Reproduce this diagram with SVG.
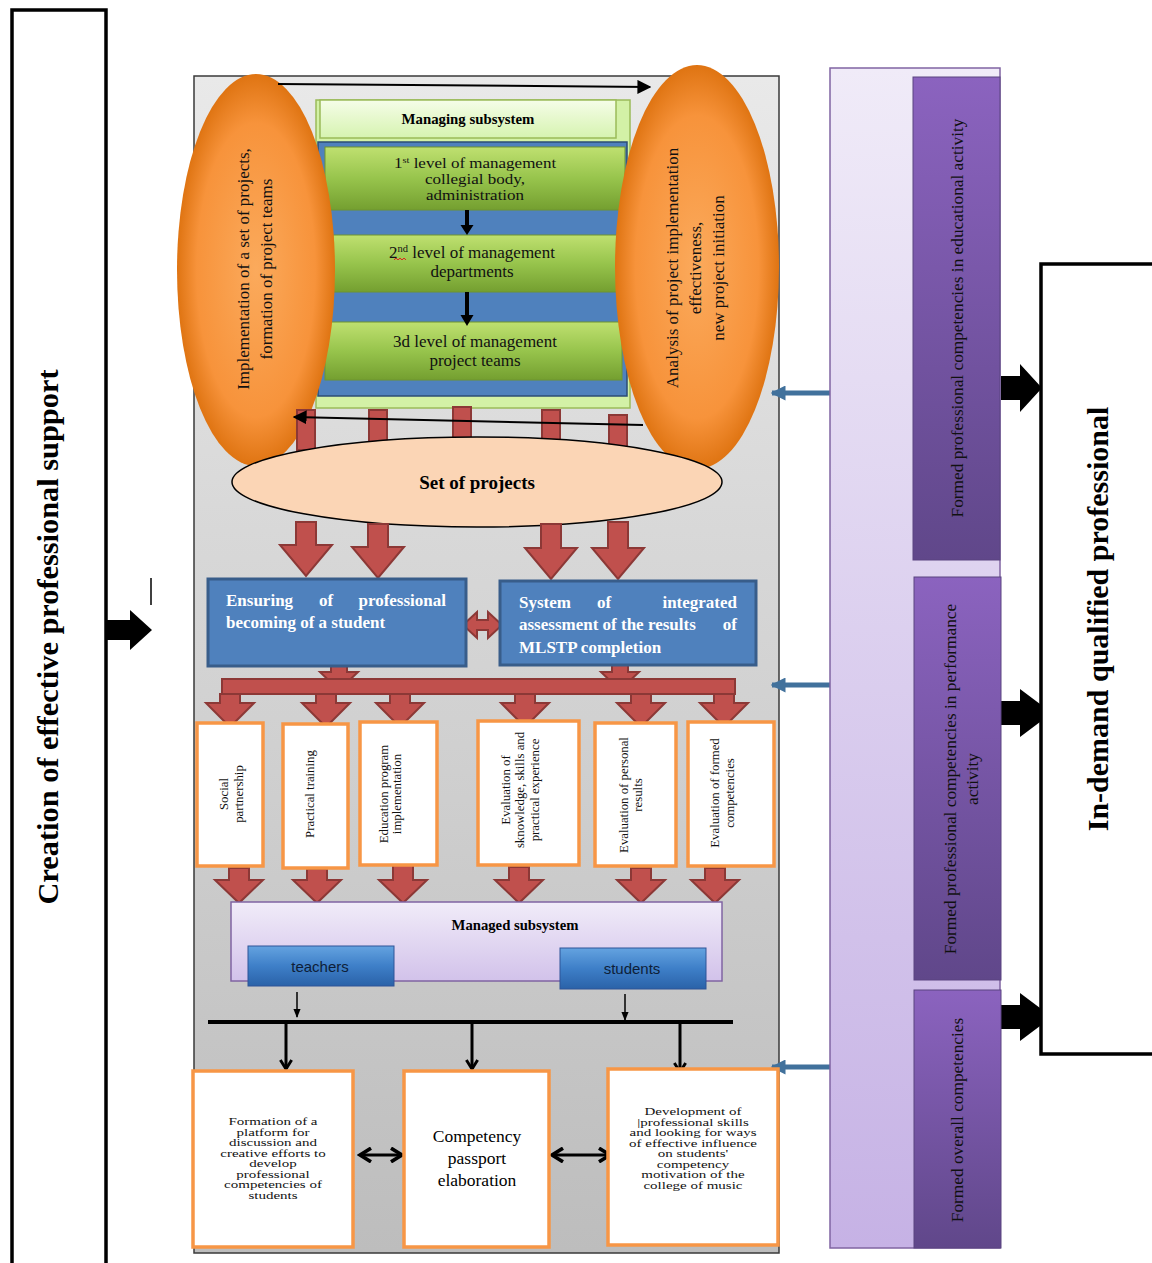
<svg xmlns="http://www.w3.org/2000/svg" width="1152" height="1263" viewBox="0 0 1152 1263">
<defs>
<linearGradient id="gPanel" x1="0" y1="0" x2="0" y2="1"><stop offset="0" stop-color="#e9e9e9"/><stop offset="1" stop-color="#bdbdbd"/></linearGradient>
<radialGradient id="gOrange" cx="0.5" cy="0.5" r="0.5"><stop offset="0" stop-color="#fbaa5c"/><stop offset="0.75" stop-color="#f7933b"/><stop offset="1" stop-color="#df7412"/></radialGradient>
<linearGradient id="gGreen" x1="0" y1="0" x2="0" y2="1"><stop offset="0" stop-color="#bfe070"/><stop offset="0.5" stop-color="#97c44c"/><stop offset="1" stop-color="#749f30"/></linearGradient>
<linearGradient id="gLightGreen" x1="0" y1="0" x2="0" y2="1"><stop offset="0" stop-color="#f5fde8"/><stop offset="1" stop-color="#d6f3b0"/></linearGradient>
<linearGradient id="gLav" x1="0" y1="0" x2="0" y2="1"><stop offset="0" stop-color="#f1ecf9"/><stop offset="1" stop-color="#d2c2ea"/></linearGradient>
<linearGradient id="gLavCol" x1="0" y1="0" x2="0" y2="1"><stop offset="0" stop-color="#f0ebf8"/><stop offset="1" stop-color="#c6b2e5"/></linearGradient>
<linearGradient id="gPurple" x1="0" y1="0" x2="0" y2="1"><stop offset="0" stop-color="#8b63bf"/><stop offset="1" stop-color="#60478a"/></linearGradient>
<linearGradient id="gBtn" x1="0" y1="0" x2="0" y2="1"><stop offset="0" stop-color="#64a3e0"/><stop offset="0.5" stop-color="#3e7fc8"/><stop offset="1" stop-color="#2a62a8"/></linearGradient>
<marker id="mBlk" viewBox="0 0 10 10" refX="9" refY="5" markerWidth="7" markerHeight="7" orient="auto"><path d="M0,0 L10,5 L0,10 Z" fill="#000"/></marker>
<marker id="mSmall" viewBox="0 0 10 10" refX="9" refY="5" markerWidth="6" markerHeight="6" orient="auto"><path d="M0,1 L10,5 L0,9 Z" fill="#000"/></marker>
<marker id="mBlue" viewBox="0 0 10 10" refX="9" refY="5" markerWidth="3" markerHeight="3" orient="auto"><path d="M0,0 L10,5 L0,10 Z" fill="#41719c"/></marker>
<marker id="mV" viewBox="0 0 12 12" refX="10" refY="6" markerWidth="4.5" markerHeight="4.5" orient="auto"><path d="M2,1 L10,6 L2,11" fill="none" stroke="#000" stroke-width="2.6"/></marker>
<marker id="mV2" viewBox="0 0 12 12" refX="10" refY="6" markerWidth="5.5" markerHeight="5.5" orient="auto"><path d="M2,1 L10,6 L2,11" fill="none" stroke="#000" stroke-width="2.6"/></marker>
</defs>
<style>
.serif{font-family:"Liberation Serif","Times New Roman",serif}
.sans{font-family:"Liberation Sans",Arial,sans-serif}
.red{fill:#c0504d;stroke:#8c3836;stroke-width:2}
.obox{fill:#fff;stroke:#f79646;stroke-width:3.5}
.vt{font-size:12.8px;font-family:"Liberation Serif","Times New Roman",serif;text-anchor:middle;fill:#111}
.lvl{font-size:17px;font-family:"Liberation Serif","Times New Roman",serif;text-anchor:middle;fill:#111}
.wbold{font-family:"Liberation Serif","Times New Roman",serif;font-weight:bold;font-size:17px;fill:#fff}
.small{font-family:"Liberation Serif","Times New Roman",serif;font-size:15px;text-anchor:middle;fill:#111}
.ptxt{font-family:"Liberation Serif","Times New Roman",serif;font-size:17px;text-anchor:middle;fill:#111}
.purp{font-family:"Liberation Serif","Times New Roman",serif;font-size:17.3px;text-anchor:middle;fill:#111}
</style>

<g id="left-support">
<rect x="12" y="10" width="94" height="1270" fill="#fff" stroke="#000" stroke-width="3.5"/>
<text class="serif" font-weight="bold" font-size="29" text-anchor="middle" transform="translate(58,637) rotate(-90)" textLength="535" lengthAdjust="spacingAndGlyphs">Creation of effective professional support</text>
</g>

<g id="main-panel">
<rect x="194" y="76" width="585" height="1177" fill="url(#gPanel)" stroke="#3a3a3a" stroke-width="1.5"/>
</g>

<g id="managing-subsystem">
<rect x="316" y="100" width="314" height="308" fill="#d3f1a6" stroke="#9bbb59" stroke-width="1.5"/>
<rect x="320" y="100" width="296" height="38" fill="url(#gLightGreen)" stroke="#9bbb59" stroke-width="1.5"/>
<text class="serif" font-weight="bold" font-size="14.8" text-anchor="middle" x="468" y="124">Managing subsystem</text>
<rect x="318" y="142" width="309" height="254" fill="#4f81bd" stroke="#2c4d75" stroke-width="1.5"/>
</g>

<g id="level1">
<rect x="325" y="147" width="300" height="63" fill="url(#gGreen)" stroke="#6f9430" stroke-width="1"/>
<g transform="translate(0,168) scale(1,0.85)">
<text class="lvl" x="475" y="0">1<tspan font-size="10.5" dy="-6">st</tspan><tspan dy="6"> level of management</tspan></text>
<text class="lvl" x="475" y="18.8">collegial body,</text>
<text class="lvl" x="475" y="37.6">administration</text>
</g>
</g>
<g id="level2">
<rect x="333" y="235" width="287" height="57" fill="url(#gGreen)" stroke="#6f9430" stroke-width="1"/>
<text class="lvl" x="472" y="258">2<tspan font-size="10.5" dy="-6">nd</tspan><tspan dy="6"> level of management</tspan></text>
<path d="M394,260 l2,-2 l2,2 l2,-2 l2,2 l2,-2 l2,2" fill="none" stroke="#e02020" stroke-width="1"/>
<text class="lvl" x="472" y="277">departments</text>
</g>
<g id="level3">
<rect x="325" y="322" width="297" height="58" fill="url(#gGreen)" stroke="#6f9430" stroke-width="1"/>
<text class="lvl" x="475" y="347">3d level of management</text>
<text class="lvl" x="475" y="366">project teams</text>
</g>

<g id="left-ellipse">
<ellipse cx="256" cy="270" rx="79" ry="196" fill="url(#gOrange)"/>
<text class="ptxt" transform="translate(249,269) rotate(-90)">Implementation of a set of projects,</text>
<text class="ptxt" transform="translate(272,269) rotate(-90)">formation of project teams</text>
</g>
<g id="right-ellipse">
<ellipse cx="697" cy="267" rx="82" ry="202" fill="url(#gOrange)"/>
<text class="ptxt" transform="translate(678,268) rotate(-90)">Analysis of project implementation</text>
<text class="ptxt" transform="translate(701,268) rotate(-90)">effectiveness,</text>
<text class="ptxt" transform="translate(724,268) rotate(-90)">new project initiation</text>
</g>

<g id="connectors">
<path d="M465,210 V225 H460.5 L467,235 L473.5,225 H469 V210 Z" fill="#000"/>
<path d="M465,292 V315 H460.5 L467,326 L473.5,315 H469 V292 Z" fill="#000"/>
<rect class="red" x="297" y="410" width="18" height="40"/>
<rect class="red" x="369" y="410" width="18" height="40"/>
<rect class="red" x="453" y="407" width="18" height="40"/>
<rect class="red" x="542" y="410" width="18" height="40"/>
<rect class="red" x="609" y="415" width="18" height="40"/>
<line x1="278" y1="84" x2="650" y2="87" stroke="#000" stroke-width="2" marker-end="url(#mBlk)"/>
<line x1="643" y1="425" x2="294" y2="417" stroke="#000" stroke-width="2" marker-end="url(#mBlk)"/>
</g>

<g id="set-of-projects">
<ellipse cx="477" cy="482" rx="245" ry="45" fill="#fbd5b5" stroke="#000" stroke-width="1.5"/>
<text class="serif" font-weight="bold" font-size="19" text-anchor="middle" x="477" y="489">Set of projects</text>
</g>

<g id="red-arrows">
<path class="red" d="M296,522 H316 V545 H332 L306,576 L280,545 H296 Z"/>
<path class="red" d="M368,524 H388 V547 H404 L378,578 L352,547 H368 Z"/>
<path class="red" d="M541,524 H561 V548 H577 L551,579 L525,548 H541 Z"/>
<path class="red" d="M608,522 H628 V548 H644 L618,579 L592,548 H608 Z"/>
<path class="red" d="M463,625 L477,612 V620 H488 V612 L502,625 L488,638 V630 H477 V638 Z"/>
<path class="red" d="M331,662 H347 V672 H358 L339,690 L320,672 H331 Z"/>
<path class="red" d="M612,662 H628 V672 H639 L620,690 L601,672 H612 Z"/>
<rect class="red" x="222" y="679" width="513" height="15"/>
<path class="red" d="M220,694 H240 V703 H254 L230,727 L206,703 H220 Z"/>
<path class="red" d="M316,694 H336 V703 H350 L326,727 L302,703 H316 Z"/>
<path class="red" d="M390,694 H410 V703 H424 L400,727 L376,703 H390 Z"/>
<path class="red" d="M515,694 H535 V703 H549 L525,727 L501,703 H515 Z"/>
<path class="red" d="M631,694 H651 V703 H665 L641,727 L617,703 H631 Z"/>
<path class="red" d="M714,694 H734 V703 H748 L724,727 L700,703 H714 Z"/>
<path class="red" d="M229,868 H249 V880 H263 L239,903 L215,880 H229 Z"/>
<path class="red" d="M307,869 H327 V880 H341 L317,903 L293,880 H307 Z"/>
<path class="red" d="M393,865 H413 V880 H427 L403,903 L379,880 H393 Z"/>
<path class="red" d="M509,867 H529 V880 H543 L519,903 L495,880 H509 Z"/>
<path class="red" d="M631,868 H651 V880 H665 L641,903 L617,880 H631 Z"/>
<path class="red" d="M705,868 H725 V880 H739 L715,903 L691,880 H705 Z"/>
</g>

<g id="ensuring">
<rect x="208" y="579" width="258" height="87" fill="#4f81bd" stroke="#385d8a" stroke-width="3"/>
<text class="wbold" x="226" y="606">Ensuring</text>
<text class="wbold" x="326" y="606" text-anchor="middle">of</text>
<text class="wbold" x="446" y="606" text-anchor="end">professional</text>
<text class="wbold" x="226" y="628">becoming of a student</text>
</g>
<g id="system-assessment">
<rect x="500" y="581" width="256" height="84" fill="#4f81bd" stroke="#385d8a" stroke-width="3"/>
<text class="wbold" x="519" y="608">System</text>
<text class="wbold" x="604" y="608" text-anchor="middle">of</text>
<text class="wbold" x="737" y="608" text-anchor="end">integrated</text>
<text class="wbold" x="519" y="630">assessment of the results</text>
<text class="wbold" x="737" y="630" text-anchor="end">of</text>
<text class="wbold" x="519" y="653">MLSTP completion</text>
</g>

<g id="social-partnership">
<rect class="obox" x="197" y="723" width="66" height="143"/>
<text class="vt" transform="translate(228,794) rotate(-90)">Social</text>
<text class="vt" transform="translate(243,794) rotate(-90)">partnership</text>
</g>
<g id="practical-training">
<rect class="obox" x="283" y="724" width="65" height="144"/>
<text class="vt" transform="translate(314,794) rotate(-90)">Practical training</text>
</g>
<g id="education-program">
<rect class="obox" x="360" y="722" width="77" height="143"/>
<text class="vt" transform="translate(388,794) rotate(-90)">Education  program</text>
<text class="vt" transform="translate(401,794) rotate(-90)">implementation</text>
</g>
<g id="evaluation-knowledge">
<rect class="obox" x="478" y="721" width="101" height="144"/>
<text class="vt" transform="translate(510,790) rotate(-90)">Evaluation of</text>
<text class="vt" transform="translate(524,790) rotate(-90)">sknowledge, skills and</text>
<text class="vt" transform="translate(539,790) rotate(-90)">practical experience</text>
</g>
<g id="evaluation-personal">
<rect class="obox" x="595" y="723" width="81" height="143"/>
<text class="vt" transform="translate(628,795) rotate(-90)">Evaluation of personal</text>
<text class="vt" transform="translate(642,795) rotate(-90)">results</text>
</g>
<g id="evaluation-formed">
<rect class="obox" x="688" y="722" width="86" height="144"/>
<text class="vt" transform="translate(719,793) rotate(-90)">Evaluation of formed</text>
<text class="vt" transform="translate(734,793) rotate(-90)">competencies</text>
</g>

<g id="managed-subsystem">
<rect x="231" y="902" width="491" height="79" fill="url(#gLav)" stroke="#8064a2" stroke-width="1.5"/>
<text class="serif" font-weight="bold" font-size="14.7" text-anchor="middle" x="515" y="930">Managed subsystem</text>
</g>
<g id="teachers">
<rect x="248" y="946" width="146" height="40" fill="url(#gBtn)" stroke="#2f5597" stroke-width="1"/>
<text class="sans" font-size="15" text-anchor="middle" x="320" y="972" fill="#0e1e38">teachers</text>
</g>
<g id="students">
<rect x="560" y="948" width="146" height="41" fill="url(#gBtn)" stroke="#2f5597" stroke-width="1"/>
<text class="sans" font-size="15" text-anchor="middle" x="632" y="974" fill="#0e1e38">students</text>
</g>

<g id="bottom-connectors">
<line x1="297" y1="992" x2="297" y2="1017" stroke="#000" stroke-width="1.5" marker-end="url(#mSmall)"/>
<line x1="625" y1="994" x2="625" y2="1020" stroke="#000" stroke-width="1.5" marker-end="url(#mSmall)"/>
<line x1="208" y1="1022" x2="733" y2="1022" stroke="#000" stroke-width="4"/>
<line x1="286" y1="1022" x2="286" y2="1069" stroke="#000" stroke-width="3" marker-end="url(#mV)"/>
<line x1="472" y1="1022" x2="472" y2="1069" stroke="#000" stroke-width="3" marker-end="url(#mV)"/>
<line x1="680" y1="1022" x2="680" y2="1072" stroke="#000" stroke-width="3" marker-end="url(#mV)"/>
<line x1="380" y1="1155" x2="360" y2="1155" stroke="#000" stroke-width="3" marker-end="url(#mV2)"/>
<line x1="380" y1="1155" x2="402" y2="1155" stroke="#000" stroke-width="3" marker-end="url(#mV2)"/>
<line x1="580" y1="1155" x2="552" y2="1155" stroke="#000" stroke-width="3" marker-end="url(#mV2)"/>
<line x1="580" y1="1155" x2="610" y2="1155" stroke="#000" stroke-width="3" marker-end="url(#mV2)"/>
<line x1="830" y1="393" x2="772" y2="393" stroke="#41719c" stroke-width="5" marker-end="url(#mBlue)"/>
<line x1="830" y1="685" x2="772" y2="685" stroke="#41719c" stroke-width="5" marker-end="url(#mBlue)"/>
<line x1="830" y1="1067" x2="772" y2="1067" stroke="#41719c" stroke-width="5" marker-end="url(#mBlue)"/>
<path d="M106,620 H130 V610 L152,630 L130,650 V640 H106 Z" fill="#000"/>
<line x1="151" y1="578" x2="151" y2="605" stroke="#000" stroke-width="1.5"/>
<path d="M1001,376 H1020 V364 L1042,388 L1020,412 V400 H1001 Z" fill="#000"/>
<path d="M1001,701 H1020 V689 L1052,713 L1020,737 V725 H1001 Z" fill="#000"/>
<path d="M1001,1005 H1020 V993 L1052,1017 L1020,1041 V1029 H1001 Z" fill="#000"/>
</g>

<g id="formation-platform">
<rect class="obox" x="193" y="1071" width="160" height="176"/>
<g transform="translate(0,1121) scale(1,0.7)">
<text class="small" x="273" y="6">Formation of a</text>
<text class="small" x="273" y="21">platform for</text>
<text class="small" x="273" y="36">discussion and</text>
<text class="small" x="273" y="51">creative efforts to</text>
<text class="small" x="273" y="66">develop</text>
<text class="small" x="273" y="81">professional</text>
<text class="small" x="273" y="96">competencies of</text>
<text class="small" x="273" y="111">students</text>
</g>
</g>
<g id="competency-passport">
<rect class="obox" x="404" y="1071" width="145" height="176"/>
<text class="serif" font-size="17.5" text-anchor="middle" x="477" y="1142">Competency</text>
<text class="serif" font-size="17.5" text-anchor="middle" x="477" y="1164">passport</text>
<text class="serif" font-size="17.5" text-anchor="middle" x="477" y="1186">elaboration</text>
</g>
<g id="development-skills">
<rect class="obox" x="608" y="1069" width="170" height="176"/>
<g transform="translate(0,1111) scale(1,0.7)">
<text class="small" x="693" y="6">Development of</text>
<text class="small" x="693" y="21">|professional skills</text>
<text class="small" x="693" y="36">and looking for ways</text>
<text class="small" x="693" y="51">of effective influence</text>
<text class="small" x="693" y="66">on students'</text>
<text class="small" x="693" y="81">competency</text>
<text class="small" x="693" y="96">motivation of the</text>
<text class="small" x="693" y="111">college of music</text>
</g>
</g>

<g id="results-column">
<rect x="830" y="68" width="170" height="1180" fill="url(#gLavCol)" stroke="#8064a2" stroke-width="1.5"/>
</g>
<g id="competencies-educational">
<rect x="913" y="77" width="87" height="483" fill="url(#gPurple)" stroke="#5a4480" stroke-width="1"/>
<text class="purp" transform="translate(963,318) rotate(-90)">Formed professional competencies in educational activity</text>
</g>
<g id="competencies-performance">
<rect x="914" y="577" width="87" height="403" fill="url(#gPurple)" stroke="#5a4480" stroke-width="1"/>
<text class="purp" transform="translate(956,779) rotate(-90)">Formed professional competencies  in performance</text>
<text class="purp" transform="translate(978,779) rotate(-90)">activity</text>
</g>
<g id="competencies-overall">
<rect x="914" y="990" width="87" height="258" fill="url(#gPurple)" stroke="#5a4480" stroke-width="1"/>
<text class="purp" transform="translate(963,1120) rotate(-90)">Formed overall competencies</text>
</g>

<g id="in-demand-professional">
<rect x="1041" y="264" width="120" height="790" fill="#fff" stroke="#000" stroke-width="3.5"/>
<text class="serif" font-weight="bold" font-size="30" text-anchor="middle" transform="translate(1108,619) rotate(-90)">In-demand qualified professional</text>
</g>
</svg>
